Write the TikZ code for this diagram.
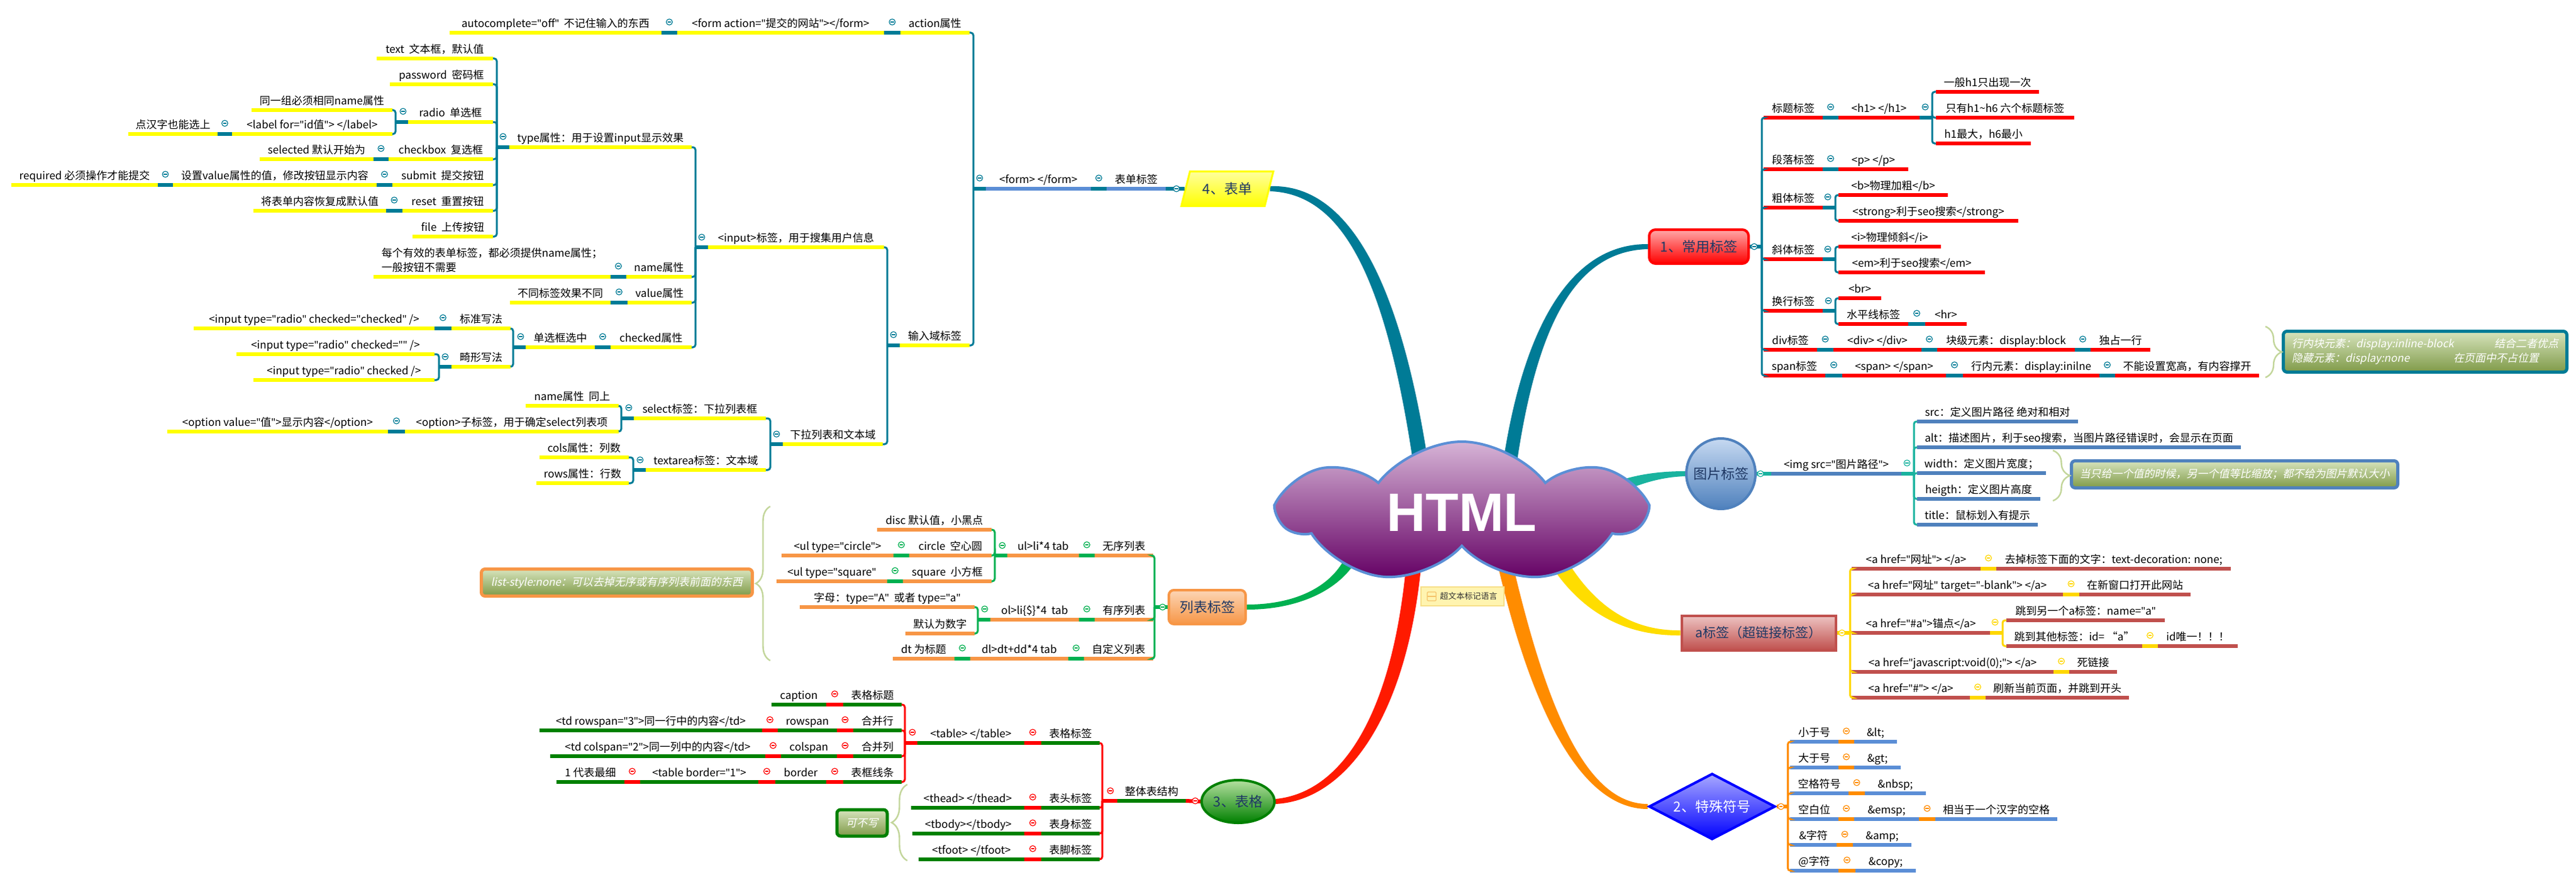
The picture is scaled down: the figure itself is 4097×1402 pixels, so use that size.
\documentclass[tikz,border=0pt]{standalone}
\usepackage{fontspec}
\setmainfont{Noto Sans CJK SC}
\newfontfamily\itf[FakeSlant=0.2]{Noto Sans CJK SC}
\newfontfamily\htmlf{Liberation Sans}
\newfontfamily\latf{Noto Sans}
\newcommand\q{{\latf\symbol{34}}}
\usetikzlibrary{shapes.geometric,shapes.symbols,decorations.pathreplacing,calc}
\pgfdeclarelayer{bgzero}
\pgfdeclarelayer{bgone}
\pgfsetlayers{bgzero,bgone,main}
\definecolor{tealc}{HTML}{007B96}
\definecolor{ylw}{HTML}{FFFF00}
\definecolor{blul}{HTML}{5B8ED6}
\definecolor{grn}{HTML}{00B050}
\definecolor{orl}{HTML}{F79646}
\definecolor{orlt}{HTML}{FCD5B5}
\definecolor{redc}{HTML}{FF0000}
\definecolor{redt}{HTML}{FFA8A8}
\definecolor{dgrn}{HTML}{008000}
\definecolor{grnt}{HTML}{B5E0A0}
\definecolor{ared}{HTML}{C0504D}
\definecolor{aredt}{HTML}{EDC4C3}
\definecolor{goldc}{HTML}{FFD700}
\definecolor{imgb}{HTML}{4F81BD}
\definecolor{imgt}{HTML}{C6D9F1}
\definecolor{tgrn}{HTML}{1AB39F}
\definecolor{orc}{HTML}{FF8C00}
\definecolor{navy}{HTML}{1F3864}
\definecolor{brc}{HTML}{C3D69B}
\definecolor{olvt}{HTML}{D7E4BD}
\definecolor{olvb}{HTML}{7F9A48}
\definecolor{cloudt}{HTML}{D6B4D6}
\definecolor{cloudm}{HTML}{94468F}
\definecolor{cloudb}{HTML}{640064}
\definecolor{cloudl}{HTML}{5B8FD6}
\definecolor{notef}{HTML}{FFF4B0}
\definecolor{notel}{HTML}{F7DF88}
\definecolor{noteic}{HTML}{F5C46A}
\definecolor{branchr}{HTML}{FF1A00}
\definecolor{branchy}{HTML}{FFDD00}
\definecolor{symt}{HTML}{A8A8FF}
\definecolor{symc}{HTML}{0000FF}
\definecolor{ylwt}{HTML}{FFFF9E}
\tikzset{
 lbl/.style={inner xsep=0pt,inner ysep=4pt,text depth=0pt,anchor=south,font=\fontsize{8.5}{11.5}\selectfont},
 seg/.style={line width=3pt},
 brk/.style={line width=1.5pt,rounded corners=2pt},
 mkst/.style={fill=white,line width=0.6pt},
 topic/.style={font=\fontsize{11}{13}\selectfont,text=navy,inner sep=0pt},
 callout/.style={rounded corners=3pt,line width=2.5pt,top color=olvt,bottom color=olvb,text=white,font=\itf\fontsize{8.5}{11.5}\selectfont,inner sep=0pt},
 bracest/.style={draw=brc,line width=1.2pt,decorate},
}
\newcommand\tp[7][]{%
  \coordinate (#2-l) at (#3,#5);
  \coordinate (#2-r) at (#4,#5);
  \draw[seg,#6] (#2-l) -- (#2-r);
  \node[lbl,minimum width={(#4-#3)*0.5pt},#1] (#2) at ({(#3+#4)/2},#5) {#7};
}
\newcommand\mk[2]{%
  \coordinate (mkp) at #1;
  \draw[mkst,draw=#2] (mkp) circle (2.4pt);
  \draw[#2,line width=0.6pt] ([xshift=-1.3pt]mkp) -- ([xshift=1.3pt]mkp);
}
\newcommand\chn[3]{%
  \draw[seg,#3] (#1-r) -- (#2-l);
  \mk{($(#1-r)!0.5!(#2-l)+(0,-17)$)}{#3}%
}
\newcommand\brL[5]{%
  \draw[seg,#3] (#1) -- ++(-#2,0) coordinate (tmpb);
  \foreach \kid in {#4}{\draw[brk,#3] (tmpb) |- (\kid-r);}
  \mk{($(#1)+(#5)$)}{#3}%
}
\newcommand\brR[5]{%
  \draw[seg,#3] (#1) -- ++(#2,0) coordinate (tmpb);
  \foreach \kid in {#4}{\draw[brk,#3] (tmpb) |- (\kid-l);}
  \mk{($(#1)+(#5)$)}{#3}%
}
\begin{document}
\begin{tikzpicture}[x=0.5pt,y=-0.5pt]
\begin{pgfonlayer}{bgzero}
\fill[white] (0,0) rectangle (4097,1402);
\end{pgfonlayer}
\useasboundingbox (0,0) rectangle (4097,1402);

% ---------- central topics ----------
\node[cloud,cloud puffs=7,cloud puff arc=105,cloud ignores aspect,minimum width=287pt,minimum height=113pt,
      draw=cloudl,line width=2pt,top color=cloudt,middle color=cloudm,bottom color=cloudb,inner sep=0pt,
      text=white,font=\htmlf\bfseries\fontsize{43}{43}\selectfont] (html) at (2325,815) {HTML};
\node[trapezium,trapezium left angle=66,trapezium right angle=114,trapezium stretches=true,
      minimum width=73.5pt,minimum height=27.5pt,draw=ylw,line width=1.5pt,top color=ylwt,bottom color=ylw,topic] (form4) at (1952,300) {4、表单};
\node[rounded corners=5pt,draw=redc,line width=2pt,top color=redt,bottom color=redc,minimum width=79pt,minimum height=27pt,topic] (c1) at (2702,392) {1、常用标签};
\node[ellipse,draw=imgb,line width=2pt,top color=imgt,bottom color=imgb,minimum width=55pt,minimum height=56pt,inner sep=0pt] (img) at (2737,753) {};
\node[topic] (imgtx) at (img) {图片标签};
\node[rounded corners=4pt,draw=orl,line width=2pt,top color=orlt,bottom color=orl,minimum width=61pt,minimum height=27pt,topic] (lb) at (1920,965) {列表标签};
\node[ellipse,draw=dgrn,line width=2pt,top color=grnt,bottom color=dgrn,minimum width=58pt,minimum height=34pt,topic] (tb) at (1969,1274) {3、表格};
\node[draw=ared,line width=2pt,top color=aredt,bottom color=ared,minimum width=122.5pt,minimum height=27.5pt,topic,font=\fontsize{10.5}{12}\selectfont] (ab) at (2797,1006) {a标签（超链接标签）};
\node[diamond,aspect=1.9,draw=symc,line width=2pt,top color=symt,bottom color=symc,minimum width=100.5pt,minimum height=52.5pt,topic,text=white] (sym) at (2723,1282) {2、特殊符号};
\node[draw=notel,fill=notef,line width=0.8pt,minimum width=66pt,minimum height=15pt,inner sep=0pt] (nt) at (2326,948) {};
\node[font=\fontsize{6.5}{7}\selectfont,text=black!80,anchor=west,inner sep=0pt] (ntt) at (2290,948) {超文本标记语言};
\draw[noteic,fill=notef,line width=0.6pt,rounded corners=0.6pt] (2270,941) rectangle (2284,955);
\draw[noteic,line width=0.6pt] (2270,948) -- (2284,948);

% ---------- main tapered branches ----------
\begin{pgfonlayer}{bgone}
\fill[tealc] ($(form4.right side)+(0,-4)$) .. controls (2132,292) and (2226,416) .. ($(html)+(-50,-55)$)
   -- ($(html)+(-74,-55)$) .. controls (2204,422) and (2128,308) .. ($(form4.right side)+(0,4)$) -- cycle;
\fill[tealc] ($(html)+(62,-55)$) .. controls (2419,520) and (2498,387) .. ($(c1.west)+(0,-4)$)
   -- ($(c1.west)+(0,4)$) .. controls (2502,399) and (2441,522) .. ($(html)+(84,-55)$) -- cycle;
\fill[grn] ($(lb.east)+(0,-4)$) .. controls (2078,961) and (2142,918) .. ($(html)+(-175,35)$)
   -- ($(html)+(-153,35)$) .. controls (2160,924) and (2082,969) .. ($(lb.east)+(0,4)$) -- cycle;
\fill[branchr] ($(html)+(-87,65)$) .. controls (2218,1128) and (2138,1259) .. ($(tb.east)+(0,-4)$)
   -- ($(tb.east)+(0,4)$) .. controls (2144,1272) and (2242,1132) .. ($(html)+(-63,65)$) -- cycle;
\fill[orc] ($(html)+(53,65)$) .. controls (2428,1104) and (2506,1286) .. ($(sym.west)+(0,4)$)
   -- ($(sym.west)+(0,-4)$) .. controls (2514,1278) and (2452,1096) .. ($(html)+(77,65)$) -- cycle;
\fill[branchy] ($(html)+(123,51)$) .. controls (2500,968) and (2578,1011) .. ($(ab.west)+(0,4)$)
   -- ($(ab.west)+(0,-4)$) .. controls (2584,1003) and (2520,952) .. ($(html)+(147,39)$) -- cycle;
\fill[tgrn] ($(html)+(193,-25)$) .. controls (2568,760) and (2620,749) .. ($(img.west)+(0,-4)$)
   -- ($(img.west)+(0,4)$) .. controls (2622,759) and (2574,782) .. ($(html)+(197,-3)$) -- cycle;
\end{pgfonlayer}

% ---------- 4 form ----------
\tp{ac}{715}{1052}{52}{ylw}{autocomplete=\q off\q\ \ 不记住输入的东西}
\tp{fa}{1077}{1406}{52}{ylw}{<form action=\q 提交的网站\q></form>}
\tp{ap}{1432}{1542}{52}{ylw}{action属性}
\chn{ac}{fa}{tealc}
\chn{fa}{ap}{tealc}
\tp{t1}{599}{784}{93}{ylw}{text\ \ 文本框，默认值}
\tp{t2}{620}{784}{134}{ylw}{password\ \ 密码框}
\tp{r1}{400}{624}{175}{ylw}{同一组必须相同name属性}
\tp{r2}{204}{346}{213}{ylw}{点汉字也能选上}
\tp{r3}{369}{624}{213}{ylw}{<label for=\q id值\q> </label>}
\tp{t3}{649}{784}{194}{ylw}{radio\ \ 单选框}
\tp{c1x}{413}{594}{253}{ylw}{selected 默认开始为}
\tp{t4}{618}{784}{253}{ylw}{checkbox\ \ 复选框}
\tp{s1}{18}{251}{294}{ylw}{required 必须操作才能提交}
\tp{s2}{275}{599}{294}{ylw}{设置value属性的值，修改按钮显示内容}
\tp{t5}{624}{784}{294}{ylw}{submit\ \ 提交按钮}
\tp{rs1}{403}{614}{335}{ylw}{将表单内容恢复成默认值}
\tp{t6}{640}{784}{335}{ylw}{reset\ \ 重置按钮}
\tp{t7}{656}{784}{376}{ylw}{file\ \ 上传按钮}
\tp{ty}{810}{1100}{234}{ylw}{type属性：用于设置input显示效果}
\chn{r2}{r3}{tealc}
\brL{t3-l}{20}{tealc}{r1,r3}{-8,-17}
\chn{c1x}{t4}{tealc}
\chn{s1}{s2}{tealc}
\chn{s2}{t5}{tealc}
\chn{rs1}{t6}{tealc}
\brL{ty-l}{20}{tealc}{t1,t2,t3,t4,t5,t6,t7}{-10,-17}
\tp[align=left]{nm}{594}{971}{440}{ylw}{每个有效的表单标签，都必须提供name属性；\\一般按钮不需要}
\tp{np}{996}{1100}{440}{ylw}{name属性}
\tp{vd}{811}{971}{481}{ylw}{不同标签效果不同}
\tp{vp}{998}{1100}{481}{ylw}{value属性}
\tp{ck1}{308}{691}{522}{ylw}{<input type=\q radio\q\ checked=\q checked\q\ />}
\tp{bz}{718}{812}{522}{ylw}{标准写法}
\tp{ck2}{376}{691}{563}{ylw}{<input type=\q radio\q\ checked=\q\q\ />}
\tp{ck3}{403}{691}{604}{ylw}{<input type=\q radio\q\ checked />}
\tp{jx}{718}{812}{583}{ylw}{畸形写法}
\tp{dx}{836}{946}{552}{ylw}{单选框选中}
\tp{cp}{971}{1100}{552}{ylw}{checked属性}
\tp{inp}{1126}{1406}{393}{ylw}{<input>标签，用于搜集用户信息}
\chn{nm}{np}{tealc}
\chn{vd}{vp}{tealc}
\chn{ck1}{bz}{tealc}
\brL{jx-l}{20}{tealc}{ck2,ck3}{-10,-16}
\brL{dx-l}{20}{tealc}{bz,jx}{-8,-17}
\chn{dx}{cp}{tealc}
\brL{inp-l}{20}{tealc}{ty,np,vp,cp}{-10,-16}
\tp{sn}{836}{984}{645}{ylw}{name属性\ \ 同上}
\tp{op1}{266}{617}{686}{ylw}{<option value=\q 值\q>显示内容</option>}
\tp{op2}{644}{984}{686}{ylw}{<option>子标签，用于确定select列表项}
\tp{sel}{1008}{1218}{665}{ylw}{select标签：下拉列表框}
\tp{cols}{858}{1000}{727}{ylw}{cols属性：列数}
\tp{rows}{853}{1000}{768}{ylw}{rows属性：行数}
\tp{ta}{1027}{1218}{747}{ylw}{textarea标签：文本域}
\tp{xl}{1245}{1404}{706}{ylw}{下拉列表和文本域}
\tp{sr}{1431}{1542}{549}{ylw}{输入域标签}
\chn{op1}{op2}{tealc}
\brL{sel-l}{20}{tealc}{sn,op2}{-8,-17}
\brL{ta-l}{20}{tealc}{cols,rows}{-9,-16}
\brL{xl-l}{20}{tealc}{sel,ta}{-10,-16}
\brL{sr-l}{20}{tealc}{inp,xl}{-10,-17}
\tp{fm}{1568}{1735}{300}{blul}{<form> </form>}
\tp{bd}{1760}{1854}{300}{blul}{表单标签}
\brL{fm-l}{20}{tealc}{ap,sr}{-10,-17}
\chn{fm}{bd}{tealc}
\draw[seg,tealc] (bd-r) -- (form4.left side);
\mk{($(bd-r)+(17,0)$)}{tealc}

% ---------- list ----------
\tp{ds}{1395}{1577}{842}{orl}{disc 默认值，小黑点}
\tp{uc}{1243}{1421}{883}{orl}{<ul type=\q circle\q>}
\tp{ci}{1446}{1577}{883}{orl}{circle\ \ 空心圆}
\tp{us}{1235}{1411}{924}{orl}{<ul type=\q square\q}
\tp{sq}{1436}{1577}{924}{orl}{square\ \ 小方框}
\tp{ul}{1602}{1716}{883}{orl}{ul>li*4 tab}
\tp{wx}{1741}{1834}{883}{orl}{无序列表}
\tp{zm}{1272}{1550}{965}{orl}{字母：type=\q A\q\ \ 或者 type=\q a\q}
\tp{mr}{1440}{1550}{1007}{orl}{默认为数字}
\tp{ol}{1575}{1716}{985}{orl}{ol>li\{\$\}*4\ \ tab}
\tp{yx}{1741}{1834}{985}{orl}{有序列表}
\tp{dt}{1420}{1518}{1047}{orl}{dt 为标题}
\tp{dl}{1543}{1699}{1047}{orl}{dl>dt+dd*4 tab}
\tp{zd}{1724}{1834}{1047}{orl}{自定义列表}
\chn{uc}{ci}{grn}
\chn{us}{sq}{grn}
\brL{ul-l}{20}{grn}{ds,ci,sq}{-8,-16}
\chn{ul}{wx}{grn}
\brL{ol-l}{20}{grn}{zm,mr}{-9,-17}
\chn{ol}{yx}{grn}
\chn{dt}{dl}{grn}
\chn{dl}{zd}{grn}
\brL{lb.west}{21}{grn}{wx,yx,zd}{-8,0}

% ---------- table ----------
\tp{cap}{1227}{1314}{1120}{dgrn}{caption}
\tp{bt1}{1341}{1434}{1120}{dgrn}{表格标题}
\tp{tdr}{858}{1212}{1161}{dgrn}{<td rowspan=\q 3\q>同一行中的内容</td>}
\tp{rsp}{1237}{1331}{1161}{dgrn}{rowspan}
\tp{hbh}{1357}{1434}{1161}{dgrn}{合并行}
\tp{tdc}{875}{1217}{1202}{dgrn}{<td colspan=\q 2\q>同一列中的内容</td>}
\tp{csp}{1242}{1331}{1202}{dgrn}{colspan}
\tp{hbl}{1357}{1434}{1202}{dgrn}{合并列}
\tp{ydb}{885}{993}{1243}{dgrn}{1 代表最细}
\tp{tbb}{1018}{1206}{1243}{dgrn}{<table border=\q 1\q>}
\tp{bor}{1233}{1314}{1243}{dgrn}{border}
\tp{bkx}{1341}{1434}{1243}{dgrn}{表框线条}
\tp{tbl}{1459}{1629}{1181}{dgrn}{<table> </table>}
\tp{bgs}{1656}{1749}{1181}{dgrn}{表格标签}
\tp{th}{1449}{1629}{1284}{dgrn}{<thead> </thead>}
\tp{bts}{1656}{1749}{1284}{dgrn}{表头标签}
\tp{tbd}{1451}{1629}{1325}{dgrn}{<tbody></tbody>}
\tp{bss}{1656}{1749}{1325}{dgrn}{表身标签}
\tp{tft}{1461}{1629}{1366}{dgrn}{<tfoot> </tfoot>}
\tp{bjs}{1656}{1749}{1366}{dgrn}{表脚标签}
\tp{zt}{1777}{1886}{1273}{dgrn}{整体表结构}
\chn{cap}{bt1}{redc}
\chn{tdr}{rsp}{redc}
\chn{rsp}{hbh}{redc}
\chn{tdc}{csp}{redc}
\chn{csp}{hbl}{redc}
\chn{ydb}{tbb}{redc}
\chn{tbb}{bor}{redc}
\chn{bor}{bkx}{redc}
\chn{tbl}{bgs}{redc}
\chn{th}{bts}{redc}
\chn{tbd}{bss}{redc}
\chn{tft}{bjs}{redc}
\brL{tbl-l}{20}{redc}{bt1,hbh,hbl,bkx}{-8,-17}
\brL{zt-l}{24}{redc}{bgs,bts,bss,bjs}{-11,-16}
\draw[seg,redc] (zt-r) -- (tb.west);
\mk{($(zt-r)+(15,0)$)}{redc}

% ---------- 1 common tags ----------
\tp{bt}{2805}{2899}{187}{redc}{标题标签}
\tp{h1}{2924}{3053}{187}{redc}{<h1> </h1>}
\tp{h1a}{3079}{3243}{146}{redc}{一般h1只出现一次}
\tp{h1b}{3079}{3299}{187}{redc}{只有h1\textasciitilde h6 六个标题标签}
\tp{h1c}{3079}{3230}{228}{redc}{h1最大，h6最小}
\tp{dlb}{2805}{2899}{269}{redc}{段落标签}
\tp{pp}{2924}{3035}{269}{redc}{<p> </p>}
\tp{ct}{2805}{2899}{330}{redc}{粗体标签}
\tp{b1}{2924}{3098}{310}{redc}{<b>物理加粗</b>}
\tp{b2}{2924}{3210}{351}{redc}{<strong>利于seo搜索</strong>}
\tp{xt}{2805}{2899}{412}{redc}{斜体标签}
\tp{i1}{2924}{3087}{392}{redc}{<i>物理倾斜</i>}
\tp{i2}{2924}{3157}{433}{redc}{<em>利于seo搜索</em>}
\tp{hh}{2805}{2899}{494}{redc}{换行标签}
\tp{brr}{2924}{2992}{474}{redc}{<br>}
\tp{spx}{2924}{3035}{515}{redc}{水平线标签}
\tp{hr}{3062}{3128}{515}{redc}{<hr>}
\tp{dv}{2805}{2890}{556}{redc}{div标签}
\tp{dv2}{2916}{3056}{556}{redc}{<div> </div>}
\tp{dv3}{3081}{3300}{556}{redc}{块级元素：display:block}
\tp{dv4}{3325}{3420}{556}{redc}{独占一行}
\tp{sn1}{2805}{2903}{597}{redc}{span标签}
\tp{sn2}{2930}{3095}{597}{redc}{<span> </span>}
\tp{sn3}{3122}{3339}{597}{redc}{行内元素：display:inilne}
\tp{sn4}{3364}{3593}{597}{redc}{不能设置宽高，有内容撑开}
\chn{bt}{h1}{tealc}
\chn{dlb}{pp}{tealc}
\chn{spx}{hr}{tealc}
\chn{dv}{dv2}{tealc}
\chn{dv2}{dv3}{tealc}
\chn{dv3}{dv4}{tealc}
\chn{sn1}{sn2}{tealc}
\chn{sn2}{sn3}{tealc}
\chn{sn3}{sn4}{tealc}
\brR{h1-r}{20}{tealc}{h1a,h1b,h1c}{9,-17}
\brR{ct-r}{20}{tealc}{b1,b2}{8,-17}
\brR{xt-r}{20}{tealc}{i1,i2}{8,-16}
\brR{hh-r}{20}{tealc}{brr,spx}{9,-16}
\brR{c1.east}{19}{tealc}{bt,dlb,ct,xt,hh,dv,sn1}{7,0}

% ---------- img ----------
\tp{isrc}{2817}{3024}{753}{imgb}{<img src=\q 图片路径\q>}
\tp{im1}{3049}{3305}{670}{imgb}{src：定义图片路径 绝对和相对}
\tp{im2}{3049}{3564}{711}{imgb}{alt：描述图片，利于seo搜索，当图片路径错误时，会显示在页面}
\tp{im3}{3049}{3254}{752}{imgb}{width：定义图片宽度；}
\tp{im4}{3049}{3245}{793}{imgb}{heigth：定义图片高度}
\tp{im5}{3049}{3241}{834}{imgb}{title：鼠标划入有提示}
\brR{isrc-r}{20}{tgrn}{im1,im2,im3,im4,im5}{9,-17}
\draw[seg,tgrn] (img.east) -- (isrc-l);
\mk{($(img.east)+(6,0)$)}{tgrn}

% ---------- a tags ----------
\tp{a1}{2945}{3150}{904}{ared}{<a href=\q 网址\q> </a>}
\tp{a1b}{3175}{3548}{904}{ared}{去掉标签下面的文字：text-decoration: none;}
\tp{a2}{2945}{3281}{945}{ared}{<a href=\q 网址\q\ target=\q -blank\q> </a>}
\tp{a2b}{3307}{3484}{945}{ared}{在新窗口打开此网站}
\tp{a3}{2945}{3165}{1006}{ared}{<a href=\q\#a\q>锚点</a>}
\tp{a3a}{3191}{3443}{986}{ared}{跳到另一个a标签：name=\q a\q}
\tp{a3b}{3191}{3407}{1027}{ared}{跳到其他标签：id= “a”}
\tp{a3c}{3432}{3559}{1027}{ared}{id唯一！！！}
\tp{a4}{2945}{3266}{1068}{ared}{<a href=\q javascript:void(0);\q> </a>}
\tp{a4b}{3291}{3367}{1068}{ared}{死链接}
\tp{a5}{2945}{3133}{1109}{ared}{<a href=\q\#\q> </a>}
\tp{a5b}{3158}{3386}{1109}{ared}{刷新当前页面，并跳到开头}
\chn{a1}{a1b}{goldc}
\chn{a2}{a2b}{goldc}
\chn{a3b}{a3c}{goldc}
\chn{a4}{a4b}{goldc}
\chn{a5}{a5b}{goldc}
\brR{a3-r}{20}{goldc}{a3a,a3b}{8,-17}
\brR{ab.east}{21}{goldc}{a1,a2,a3,a4,a5}{8,0}

% ---------- special symbols ----------
\tp{x1}{2847}{2924}{1179}{blul}{小于号}
\tp{x1b}{2949}{3017}{1179}{blul}{\&lt;}
\tp{x2}{2847}{2924}{1220}{blul}{大于号}
\tp{x2b}{2949}{3023}{1220}{blul}{\&gt;}
\tp{x3}{2847}{2940}{1261}{blul}{空格符号}
\tp{x3b}{2966}{3063}{1261}{blul}{\&nbsp;}
\tp{x4}{2847}{2924}{1302}{blul}{空白位}
\tp{x4b}{2949}{3052}{1302}{blul}{\&emsp;}
\tp{x4c}{3078}{3272}{1302}{blul}{相当于一个汉字的空格}
\tp{x5}{2847}{2921}{1343}{blul}{\&字符}
\tp{x5b}{2947}{3040}{1343}{blul}{\&amp;}
\tp{x6}{2847}{2924}{1384}{blul}{@字符}
\tp{x6b}{2951}{3047}{1384}{blul}{\&copy;}
\chn{x1}{x1b}{orc}
\chn{x2}{x2b}{orc}
\chn{x3}{x3b}{orc}
\chn{x4}{x4b}{orc}
\chn{x4b}{x4c}{orc}
\chn{x5}{x5b}{orc}
\chn{x6}{x6b}{orc}
\brR{sym.east}{18}{orc}{x1,x2,x3,x4,x5,x6}{7,0}

% ---------- callouts and braces ----------
\node[callout,draw=orl,minimum width=215.5pt,minimum height=21.5pt] (cl1) at (981,926) {list-style:none：可以去掉无序或有序列表前面的东西};
\node[callout,draw=dgrn,minimum width=40pt,minimum height=21pt] (cl2) at (1371,1308) {可不写};
\node[callout,draw=tealc,minimum width=225.5pt,minimum height=32.5pt,align=left] (cl3) at (3857,559)
  {\makebox[161pt][l]{行内块元素：display:inline-block}结合二者优点\\\makebox[128.5pt][l]{隐藏元素：display:none}在页面中不占位置};
\node[callout,draw=imgb,minimum width=259.5pt,minimum height=21.5pt] (cl4) at (3554,754) {当只给一个值的时候，另一个值等比缩放；都不给为图片默认大小};
\coordinate (bra1) at (1225,1050);
\coordinate (bra2) at (1225,805);
\draw[bracest,decoration={brace,amplitude=11.5pt}] (bra1) -- (bra2);
\coordinate (brb1) at (1443,1368);
\coordinate (brb2) at (1443,1247);
\draw[bracest,decoration={brace,amplitude=12.5pt}] (brb1) -- (brb2);
\coordinate (brc1) at (3603,519);
\coordinate (brc2) at (3603,600);
\draw[bracest,decoration={brace,amplitude=13pt}] (brc1) -- (brc2);
\coordinate (brd1) at (3265,716);
\coordinate (brd2) at (3265,796);
\draw[bracest,decoration={brace,amplitude=13.5pt}] (brd1) -- (brd2);
\end{tikzpicture}
\end{document}
